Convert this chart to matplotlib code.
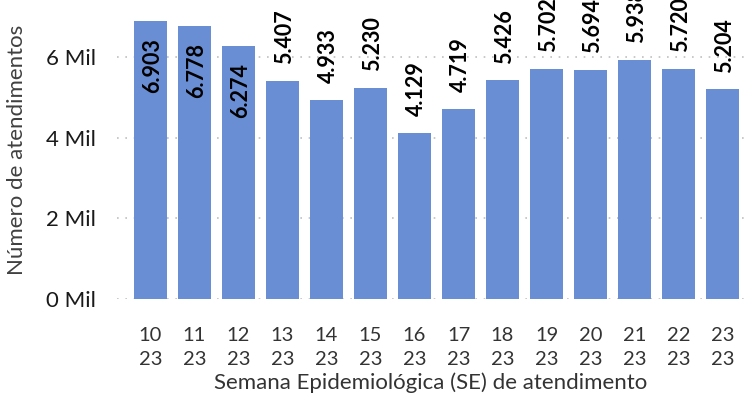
import matplotlib.pyplot as plt

semanas = ["10", "11", "12", "13", "14", "15", "16", "17", "18", "19", "20", "21", "22", "23"]
ano = "23"
atendimentos = [6903, 6778, 6274, 5407, 4933, 5230, 4129, 4719, 5426, 5702, 5694, 5938, 5720, 5204]
dentro = [True, True, True] + [False] * 11

plt.rcParams["font.family"] = ["Lato", "DejaVu Sans"]

fig = plt.figure(figsize=(7.45, 4), dpi=100)
ax = fig.add_axes([117 / 745, 1 - 299 / 400, (745 - 117) / 745, 299 / 400])

x = list(range(len(semanas)))
ax.bar(x, atendimentos, width=0.75, color="#6A8ED4", zorder=2)

off = 420
for i, v in enumerate(atendimentos):
    txt = f"{v / 1000:.3f}"
    if dentro[i]:
        ax.text(i + 0.05, v - off, txt, rotation=90, ha="center", va="top",
                fontsize=15.5, fontweight="bold", color="black", zorder=3)
    else:
        ax.text(i + 0.05, v + off, txt, rotation=90, ha="center", va="bottom",
                fontsize=15.5, fontweight="bold", color="black", zorder=3)

ax.set_xlim(-0.76, 13.51)
ax.set_ylim(0, 7425)
ax.set_yticks([0, 2000, 4000, 6000])
ax.set_yticklabels(["0 Mil", "2 Mil", "4 Mil", "6 Mil"], fontsize=16, color="#1a1a1a")
ax.set_xticks(x)
ax.set_xticklabels([f"{s}\n{ano}" for s in semanas], fontsize=14.5, color="#333333",
                   linespacing=1.5)
ax.tick_params(axis="both", length=0)
ax.tick_params(axis="y", pad=15)
ax.tick_params(axis="x", pad=20)
ax.yaxis.grid(True, linestyle=(0, (1, 4)), color="#c0c0c0", linewidth=1.2, zorder=0)
for s in ax.spines.values():
    s.set_visible(False)

ax.set_ylabel("Número de atendimentos", fontsize=16, color="#404040", labelpad=14)
ax.set_xlabel("Semana Epidemiológica (SE) de atendimento", fontsize=16, color="#333333",
              labelpad=3)

fig.savefig("out.png", dpi=100)
